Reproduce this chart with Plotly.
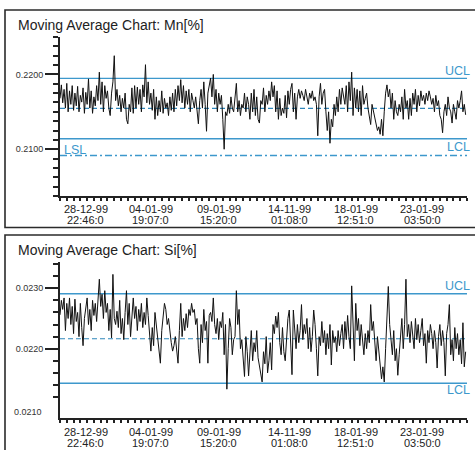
import plotly.graph_objects as go

# ---------------- data ----------------
mn_values = [
0.2168,0.2186,0.2162,0.2180,0.2155,0.2188,0.2150,0.2178,0.2160,0.2185,
0.2152,0.2175,0.2158,0.2184,0.2150,0.2172,0.2163,0.2182,0.2148,0.2176,
0.2160,0.2194,0.2155,0.2178,0.2148,0.2170,0.2158,0.2185,0.2165,0.2203,
0.2160,0.2190,0.2150,0.2185,0.2168,0.2178,0.2155,0.2145,0.2175,0.2190,
0.2225,0.2165,0.2180,0.2158,0.2172,0.2150,0.2168,0.2155,0.2175,0.2140,
0.2134,0.2160,0.2150,0.2182,0.2148,0.2185,0.2155,0.2183,0.2160,0.2180,
0.2150,0.2186,0.2170,0.2213,0.2162,0.2190,0.2160,0.2175,0.2152,0.2180,
0.2140,0.2170,0.2145,0.2165,0.2150,0.2178,0.2148,0.2168,0.2155,0.2162,
0.2145,0.2170,0.2152,0.2175,0.2150,0.2180,0.2158,0.2185,0.2165,0.2193,
0.2162,0.2185,0.2155,0.2178,0.2160,0.2180,0.2150,0.2175,0.2165,0.2155,
0.2170,0.2148,0.2134,0.2165,0.2180,0.2155,0.2190,0.2160,0.2124,0.2175,
0.2185,0.2195,0.2170,0.2200,0.2160,0.2180,0.2150,0.2175,0.2160,0.2172,
0.2140,0.2100,0.2150,0.2145,0.2160,0.2148,0.2170,0.2155,0.2150,0.2168,
0.2188,0.2150,0.2165,0.2145,0.2160,0.2155,0.2175,0.2150,0.2170,0.2160,
0.2140,0.2175,0.2150,0.2180,0.2145,0.2170,0.2140,0.2135,0.2165,0.2160,
0.2182,0.2150,0.2172,0.2160,0.2178,0.2165,0.2190,0.2170,0.2185,0.2150,
0.2178,0.2140,0.2168,0.2145,0.2155,0.2148,0.2172,0.2142,0.2178,0.2160,
0.2180,0.2188,0.2150,0.2175,0.2140,0.2170,0.2180,0.2168,0.2178,0.2172,
0.2165,0.2180,0.2170,0.2160,0.2175,0.2168,0.2178,0.2165,0.2170,0.2160,
0.2118,0.2170,0.2188,0.2160,0.2175,0.2180,0.2150,0.2125,0.2150,0.2108,
0.2140,0.2130,0.2160,0.2145,0.2170,0.2150,0.2180,0.2160,0.2182,0.2170,
0.2160,0.2185,0.2150,0.2190,0.2165,0.2203,0.2145,0.2182,0.2155,0.2180,
0.2150,0.2178,0.2145,0.2185,0.2160,0.2168,0.2175,0.2155,0.2145,0.2133,
0.2160,0.2150,0.2140,0.2135,0.2125,0.2130,0.2120,0.2140,0.2118,0.2150,
0.2175,0.2186,0.2170,0.2180,0.2155,0.2175,0.2140,0.2165,0.2150,0.2145,
0.2160,0.2150,0.2170,0.2140,0.2180,0.2155,0.2165,0.2140,0.2168,0.2145,
0.2175,0.2160,0.2180,0.2150,0.2172,0.2158,0.2178,0.2165,0.2172,0.2160,
0.2175,0.2165,0.2178,0.2170,0.2160,0.2168,0.2150,0.2172,0.2158,0.2165,
0.2145,0.2140,0.2122,0.2150,0.2160,0.2145,0.2170,0.2155,0.2150,0.2135,
0.2160,0.2150,0.2140,0.2165,0.2155,0.2165,0.2178,0.2150,0.2160,0.2146]

si_values = [
0.02256,0.02280,0.02265,0.02284,0.02230,0.02275,0.02250,0.02284,0.02240,0.02270,
0.02225,0.02282,0.02245,0.02260,0.02220,0.02275,0.02235,0.02205,0.02250,0.02270,
0.02284,0.02240,0.02265,0.02230,0.02280,0.02255,0.02275,0.02245,0.02285,0.02315,
0.02270,0.02290,0.02250,0.02296,0.02260,0.02275,0.02230,0.02265,0.02218,0.02323,
0.02250,0.02240,0.02262,0.02235,0.02280,0.02225,0.02250,0.02215,0.02260,0.02296,
0.02240,0.02275,0.02220,0.02262,0.02284,0.02250,0.02270,0.02230,0.02265,0.02245,
0.02275,0.02235,0.02260,0.02240,0.02284,0.02255,0.02215,0.02196,0.02235,0.02205,
0.02260,0.02240,0.02210,0.02195,0.02176,0.02230,0.02250,0.02275,0.02265,0.02240,
0.02250,0.02225,0.02210,0.02196,0.02205,0.02220,0.02190,0.02176,0.02230,0.02275,
0.02220,0.02250,0.02230,0.02258,0.02235,0.02265,0.02255,0.02275,0.02260,0.02265,
0.02240,0.02250,0.02200,0.02176,0.02240,0.02210,0.02265,0.02230,0.02245,0.02176,
0.02255,0.02260,0.02245,0.02284,0.02240,0.02225,0.02250,0.02215,0.02245,0.02235,
0.02260,0.02190,0.02240,0.02133,0.02200,0.02250,0.02235,0.02190,0.02215,0.02220,
0.02296,0.02240,0.02265,0.02200,0.02215,0.02185,0.02154,0.02220,0.02195,0.02155,
0.02205,0.02230,0.02180,0.02210,0.02195,0.02230,0.02185,0.02170,0.02160,0.02145,
0.02195,0.02175,0.02220,0.02160,0.02180,0.02210,0.02165,0.02240,0.02225,0.02254,
0.02235,0.02260,0.02210,0.02190,0.02235,0.02195,0.02180,0.02220,0.02250,0.02264,
0.02215,0.02157,0.02264,0.02230,0.02200,0.02240,0.02210,0.02230,0.02273,0.02215,
0.02240,0.02225,0.02250,0.02200,0.02235,0.02195,0.02220,0.02264,0.02240,0.02200,
0.02155,0.02220,0.02205,0.02245,0.02210,0.02230,0.02190,0.02225,0.02200,0.02240,
0.02173,0.02230,0.02210,0.02220,0.02195,0.02230,0.02205,0.02225,0.02240,0.02200,
0.02245,0.02215,0.02255,0.02220,0.02200,0.02304,0.02240,0.02180,0.02275,0.02230,
0.02250,0.02205,0.02240,0.02215,0.02190,0.02225,0.02200,0.02230,0.02210,0.02273,
0.02230,0.02245,0.02210,0.02180,0.02220,0.02195,0.02180,0.02150,0.02170,0.02145,
0.02200,0.02250,0.02303,0.02240,0.02210,0.02190,0.02230,0.02180,0.02200,0.02156,
0.02190,0.02230,0.02250,0.02200,0.02240,0.02315,0.02220,0.02240,0.02210,0.02245,
0.02225,0.02200,0.02250,0.02215,0.02240,0.02210,0.02230,0.02250,0.02205,0.02225,
0.02176,0.02230,0.02210,0.02240,0.02225,0.02200,0.02230,0.02210,0.02168,0.02220,
0.02240,0.02205,0.02230,0.02210,0.02155,0.02225,0.02240,0.02273,0.02190,0.02215,
0.02180,0.02235,0.02200,0.02225,0.02190,0.02215,0.02175,0.02243,0.02170,0.02195]

sample_index = list(range(len(mn_values)))

x_label_pos = [19, 67, 117, 169, 218, 267]
x_label_dates = ["28-12-99", "04-01-99", "09-01-99", "14-11-99", "18-01-99", "23-01-99"]
x_label_times = ["22:46:0", "19:07:0", "15:20:0", "01:08:0", "12:51:0", "03:50:0"]

mn_title = "Moving Average Chart: Mn[%]"
si_title = "Moving Average Chart: Si[%]"

mn_ucl, mn_cl, mn_lcl, mn_lsl = 0.21947, 0.21546, 0.21141, 0.20916
si_ucl, si_cl, si_lcl = 0.022910, 0.022165, 0.021427

mn_yticks = [0.2100, 0.2200]
mn_yticktext = ["0.2100", "0.2200"]
si_yticks = [0.0220, 0.0230]
si_yticktext = ["0.0220", "0.0230"]

# ---------------- layout helpers ----------------
W, H = 475, 450
def fx(p):
    return p / W
def fy(p):
    return 1 - p / H

FONT = "Liberation Sans, Arial, Helvetica, sans-serif"
BLUE = "#3d98cc"
DBLUE = "#2f86bb"
AX = "#222222"

mn_minor = [round(0.20375 + 0.00125 * k, 5) for k in range(18)]
si_minor = [round(0.0212 + 0.0002 * k, 5) for k in range(12)]

fig = go.Figure()
fig.add_trace(go.Scatter(x=sample_index, y=mn_values, mode="lines",
                         line=dict(color="#111111", width=1), xaxis="x", yaxis="y",
                         showlegend=False, hoverinfo="skip"))
fig.add_trace(go.Scatter(x=sample_index, y=si_values, mode="lines",
                         line=dict(color="#111111", width=1), xaxis="x2", yaxis="y2",
                         showlegend=False, hoverinfo="skip"))

xdom = [fx(60), fx(467)]
common_x = dict(domain=xdom, range=[0, 300], showgrid=False, zeroline=False,
                showline=True, linecolor=AX, linewidth=2, ticks="outside",
                ticklen=3, tickwidth=1.5, tickcolor=AX, tickmode="linear",
                tick0=0, dtick=5, showticklabels=False, fixedrange=True)
common_y = dict(showgrid=False, zeroline=False, showline=True, linecolor=AX,
                linewidth=2, ticks="outside", ticklen=13, tickwidth=2,
                tickcolor=AX, tickmode="array",
                tickfont=dict(size=9, color="#333333", family=FONT), fixedrange=True)

fig.update_layout(
    width=W, height=H,
    margin=dict(l=0, r=0, t=0, b=0),
    paper_bgcolor="white", plot_bgcolor="white",
    font=dict(family=FONT, color=AX),
    xaxis=dict(anchor="y", **common_x),
    xaxis2=dict(anchor="y2", **common_x),
    yaxis=dict(anchor="x", domain=[fy(196), fy(37)], range=[0.20375, 0.2250],
               tickvals=mn_yticks, ticktext=mn_yticktext,
               minor=dict(tickmode="array", tickvals=mn_minor, ticks="outside",
                          ticklen=5, tickwidth=2, tickcolor=AX),
               **common_y),
    yaxis2=dict(anchor="x2", domain=[fy(418), fy(262)], range=[0.020853, 0.023435],
                tickvals=si_yticks, ticktext=si_yticktext,
                minor=dict(tickmode="array", tickvals=si_minor, ticks="outside",
                           ticklen=5, tickwidth=2, tickcolor=AX),
                **common_y),
)

shapes = []
# outer panel boxes
shapes.append(dict(type="rect", xref="paper", yref="paper", x0=fx(5), x1=fx(480),
                   y0=fy(227.5), y1=fy(10), line=dict(color="#2b2b2b", width=1.6),
                   fillcolor="rgba(0,0,0,0)", layer="below"))
shapes.append(dict(type="rect", xref="paper", yref="paper", x0=fx(5), x1=fx(480),
                   y0=fy(460), y1=fy(235), line=dict(color="#2b2b2b", width=1.6),
                   fillcolor="rgba(0,0,0,0)", layer="below"))

def hline(xr, yr, val, dash, color, width=1.4):
    return dict(type="line", xref=xr, yref=yr, x0=0, x1=300, y0=val, y1=val,
                line=dict(color=color, width=width, dash=dash), layer="below")

shapes += [hline("x", "y", mn_ucl, "solid", BLUE),
           hline("x", "y", mn_cl, "5px,3px", DBLUE, 1.2),
           hline("x", "y", mn_lcl, "solid", BLUE),
           hline("x", "y", mn_lsl, "7px,3px,2px,3px", BLUE, 1.4),
           hline("x2", "y2", si_ucl, "solid", BLUE),
           hline("x2", "y2", si_cl, "5px,3px", DBLUE, 1.2),
           hline("x2", "y2", si_lcl, "solid", BLUE)]
fig.update_layout(shapes=shapes)

ann = []
# titles
ann.append(dict(text=mn_title, xref="paper", yref="paper", x=fx(16), y=fy(25),
                xanchor="left", yanchor="middle", showarrow=False,
                font=dict(size=14, color="#222222", family=FONT)))
ann.append(dict(text=si_title, xref="paper", yref="paper", x=fx(16), y=fy(250),
                xanchor="left", yanchor="middle", showarrow=False,
                font=dict(size=14, color="#222222", family=FONT)))

# limit labels
lab_font = dict(size=12.5, color=BLUE, family=FONT)
for txt, yy in [("UCL", 70.5), ("LCL", 146.5), ("UCL", 286), ("LCL", 390)]:
    ann.append(dict(text=txt, xref="paper", yref="paper", x=fx(471.5), y=fy(yy),
                    xanchor="right", yanchor="middle", showarrow=False, font=lab_font))
ann.append(dict(text="LSL", xref="paper", yref="paper", x=fx(61.5), y=fy(149.5),
                xanchor="left", yanchor="middle", showarrow=False, font=lab_font))

# extra y label without tick on Si panel
ann.append(dict(text="0.0210", xref="paper", yref="paper", x=fx(44), y=fy(411.5),
                xanchor="right", yanchor="middle", showarrow=False,
                font=dict(size=9, color="#333333", family=FONT)))

# x labels (two lines, tight spacing)
xl_font = dict(size=11, color="#222222", family=FONT)
for xr, y1, y2 in [("x", 209, 220), ("x2", 431.5, 442.5)]:
    for p, d, t in zip(x_label_pos, x_label_dates, x_label_times):
        ann.append(dict(text=d, xref=xr, yref="paper", x=p, y=fy(y1),
                        xanchor="center", yanchor="middle", showarrow=False, font=xl_font))
        ann.append(dict(text=t, xref=xr, yref="paper", x=p, y=fy(y2),
                        xanchor="center", yanchor="middle", showarrow=False, font=xl_font))
fig.update_layout(annotations=ann)

fig.write_html("out.html",
               config={"displayModeBar": False},
               post_script="document.body.style.margin='0';"
                           "document.body.style.overflow='hidden';")
